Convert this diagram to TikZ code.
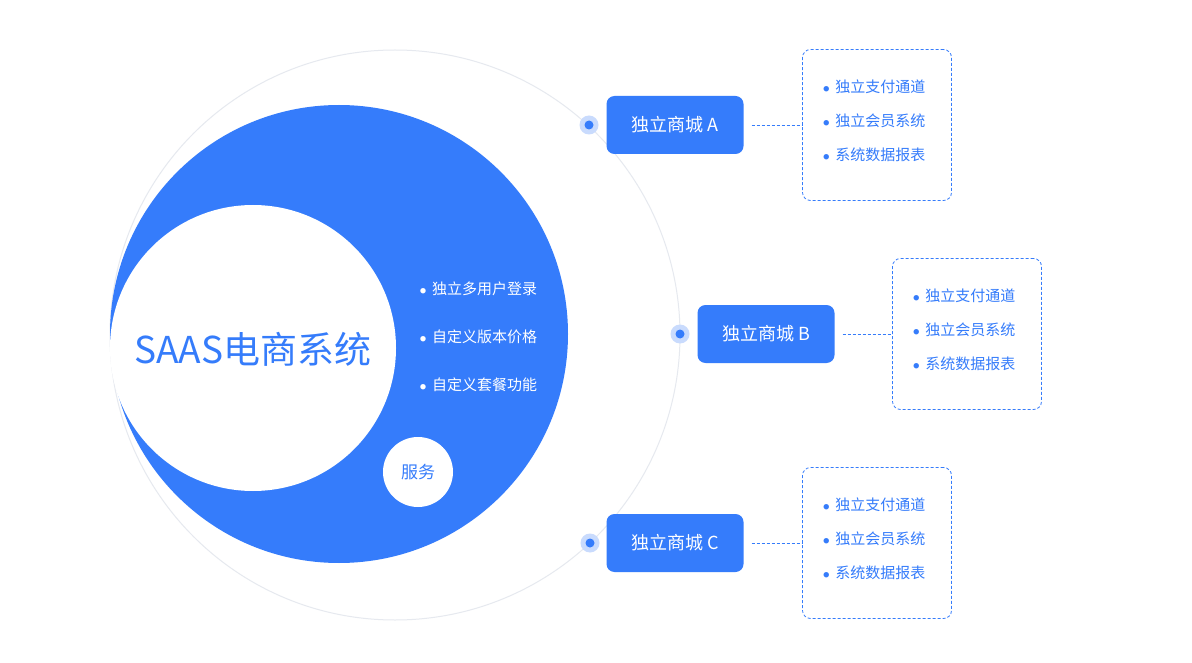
\documentclass[tikz,border=0pt]{standalone}
\usepackage{fontspec}
\setmainfont{Noto Sans CJK SC}
\definecolor{bl}{HTML}{357CFB}
\definecolor{lbl}{HTML}{C9DBFD}
\definecolor{ring}{HTML}{E6E9EF}
\newcommand{\bu}{\raisebox{0.2ex}{\fontsize{6}{6}\selectfont●}\hspace{6pt}}
\begin{document}
\begin{tikzpicture}[x=1pt,y=-1pt,
  shop/.style={fill=bl,rounded corners=8pt,minimum width=137pt,minimum height=58pt,text=white,font=\fontsize{18}{21}\selectfont,inner sep=0pt},
  detail/.style={draw=bl,dash pattern=on 3pt off 2pt,line width=0.8pt,rounded corners=8pt,minimum width=149pt,minimum height=151pt,inner sep=0pt},
  item/.style={text=bl,font=\fontsize{15}{18}\selectfont,anchor=west,inner sep=0pt},
  witem/.style={text=white,font=\fontsize{15}{18}\selectfont,anchor=west,inner sep=0pt},
  conn/.style={draw=bl,dash pattern=on 3pt off 2pt,line width=0.8pt}]
\useasboundingbox (0,0) rectangle (1192,663);
\fill[white] (0,0) rectangle (1192,663);
\draw[ring,line width=1pt] (395,335) circle[radius=285];
\fill[bl] (339,334) circle[radius=229];
\fill[white] (253,348) circle[radius=143];
\node[text=bl,font=\fontsize{37}{42}\selectfont] (title) at (253,349) {SAAS电商系统};
\node[circle,fill=white,minimum size=70pt,inner sep=0pt,text=bl,font=\fontsize{17}{20}\selectfont] (svc) at (418,472) {服务};
\node[witem] (s1) at (420,289) {\bu 独立多用户登录};
\node[witem] (s2) at (420,337) {\bu 自定义版本价格};
\node[witem] (s3) at (420,385) {\bu 自定义套餐功能};
\foreach \n/\x/\y/\dx/\bx/\by/\lab in {A/675/125/589/877/125/A, B/766/334/680/967/334/B, C/675/543/590/877/543/C}{
  \fill[lbl] (\dx,\y) circle[radius=9.5];
  \fill[bl] (\dx,\y) circle[radius=4.5];
  \node[shop] (shop\n) at (\x,\y) {独立商城 \lab};
  \node[detail] (det\n) at (\bx,\by) {};
  \coordinate (st\n) at ([xshift=8pt]shop\n.east);
  \draw[conn] (st\n) -- (det\n.west);
  \node[item] (i1\n) at ([xshift=21pt,yshift=38pt]det\n.west) {\bu 独立支付通道};
  \node[item] (i2\n) at ([xshift=21pt,yshift=4pt]det\n.west) {\bu 独立会员系统};
  \node[item] (i3\n) at ([xshift=21pt,yshift=-30pt]det\n.west) {\bu 系统数据报表};
}
\end{tikzpicture}
\end{document}
